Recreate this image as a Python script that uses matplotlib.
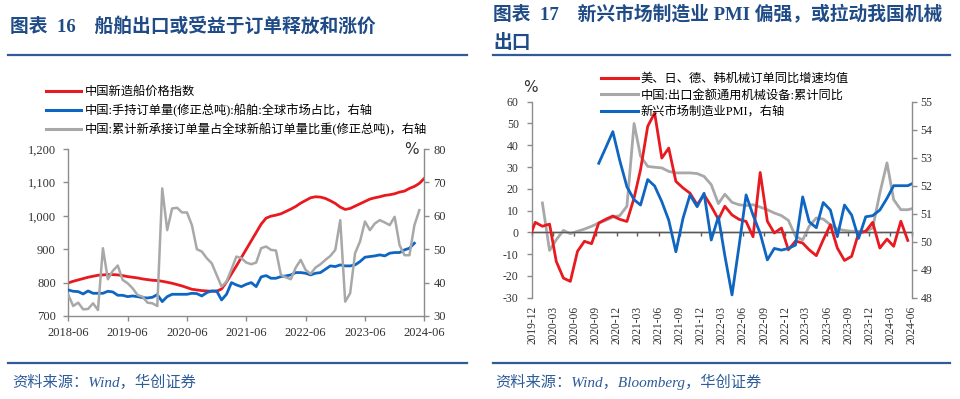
import matplotlib
matplotlib.use('Agg')
import matplotlib.pyplot as plt
import matplotlib.dates as mdates
from matplotlib.lines import Line2D
from matplotlib.ticker import FuncFormatter
import numpy as np
import pandas as pd

plt.rcParams['font.family'] = ['Liberation Serif', 'Noto Sans CJK SC']
plt.rcParams['axes.unicode_minus'] = False

# ---------------- data: chart 16 (monthly, 2018-06 .. 2024-06) ----------------
left_start = '2018-06'
ship_price = [799, 804, 808, 812, 816, 819, 822, 823, 824, 824, 823, 821, 818, 816, 814, 811,
              809, 807, 806, 804, 801, 798, 794, 790, 785, 780, 778, 776, 775, 774, 774, 781,
              802, 826, 850, 875, 900, 925, 950, 975, 993, 999, 1002, 1006, 1013, 1020, 1028,
              1038, 1046, 1054, 1057, 1056, 1052, 1045, 1037, 1026, 1019, 1022, 1029, 1036,
              1043, 1050, 1054, 1057, 1061, 1063, 1066, 1071, 1074, 1082, 1088, 1097, 1112]
hold_share = [37.8, 37.4, 37.3, 36.6, 37.5, 36.8, 36.8, 36.8, 37.4, 37.2, 36.2, 36.2, 35.8, 36.0,
              35.8, 35.5, 35.4, 35.6, 36.4, 34.3, 35.8, 36.5, 36.5, 36.5, 36.5, 36.8, 36.7, 36.0,
              37.0, 37.5, 37.5, 34.8, 36.5, 40.0, 39.3, 38.8, 39.5, 40.0, 38.8, 41.7, 42.1, 41.3,
              41.3, 41.8, 42.0, 42.3, 43.0, 43.0, 42.8, 42.3, 42.8, 43.0, 44.0, 45.0, 44.8, 45.3,
              45.0, 45.0, 45.3, 46.3, 47.6, 47.8, 48.0, 48.3, 48.0, 48.8, 49.0, 49.0, 49.8, 50.3,
              51.8]
new_share = [36.3, 33.0, 34.0, 32.0, 32.1, 33.8, 31.8, 50.3, 41.0, 43.5, 45.1, 40.8, 39.8, 38.3,
             36.3, 35.8, 34.0, 33.8, 33.0, 68.2, 55.7, 62.2, 62.4, 61.0, 61.0, 57.2, 50.0, 49.3,
             47.3, 45.8, 42.3, 38.8, 40.3, 44.0, 47.8, 47.3, 46.0, 45.5, 46.0, 50.3, 50.8, 49.8,
             49.6, 42.3, 41.6, 41.0, 44.5, 46.8, 43.8, 42.6, 44.5, 45.5, 46.8, 48.0, 49.8, 58.7,
             34.3, 36.8, 48.8, 52.3, 58.3, 55.7, 57.7, 58.7, 58.0, 57.2, 59.7, 51.2, 48.2, 48.2,
             57.2, 61.7]
left_xticklabels = ['2018-06', '2019-06', '2020-06', '2021-06', '2022-06', '2023-06', '2024-06']
left_yticks = [700, 800, 900, 1000, 1100, 1200]
left_y2ticks = [30, 40, 50, 60, 70, 80]
left_labels = ['中国新造船价格指数',
               '中国:手持订单量(修正总吨):船舶:全球市场占比，右轴',
               '中国:累计新承接订单量占全球新船订单量比重(修正总吨)，右轴']

# ---------------- data: chart 17 (monthly) ----------------
red_start = '2019-11'
machine_orders = [-4, 4.6, 2.8, 3.8, -13.3, -21, -22.5, -8.7, -4.1, -5.2, 4.3, 6, 7.5, 6, 5, 15.8,
                  28.8, 48.7, 54.8, 34.1, 38.7, 23.4, 20.4, 18, 12.7, 17.3, 12, 6, 12, 8, 6, 5, -2,
                  27.5, 5.1, -0.3, 2, -8, -4, -4.9, -8, -10.7, -3.4, 3.5, -7.2, -12.9, -11, -0.3,
                  0.5, 4.6, -7.2, -3.1, -6.4, 5.1, -3.7]
gray_start = '2020-01'
cn_export = [13.5, -8.3, -3.4, 0.9, -0.6, 0.5, 1.5, 2.8, 4.3, 5.5, 7, 7.7, 12, 50, 35, 30.3, 29.9,
             29.6, 28, 27.3, 27.3, 27.3, 27, 25.7, 21.9, 13.2, 17.5, 13.8, 12.7, 12.3, 12.7, 11.6,
             10.4, 8.9, 7.7, 5.5, -1.8, -3.5, 2.8, 6.6, 6.1, 3.5, 1.5, 0.9, 0.5, 0.5, 0.5, 2, 18,
             31.9, 15, 10.4, 10.4, 11.2]
blue_start = '2020-09'
em_pmi = [52.8, 53.35, 53.93, 52.9, 51.96, 51.5, 51.31, 52.22, 51.99, 51.43, 50.77, 49.64, 50.84,
          51.67, 51.25, 51.73, 50.06, 50.89, 49.5, 48.1, 49.82, 51.67, 50.95, 50.3, 49.35, 49.76,
          49.7, 49.76, 49.88, 51.6, 50.71, 50.5, 51.4, 51.13, 50.18, 51.31, 50.95, 50.12, 50.89,
          50.93, 51.13, 51.55, 52.0, 52.0, 52.0, 52.12]
right_tick_first, right_tick_last = '2019-12', '2024-06'
right_yticks = list(range(-30, 61, 10))
right_y2ticks = list(range(48, 56))
right_labels = ['美、日、德、韩机械订单同比增速均值',
                '中国:出口金额通用机械设备:累计同比',
                '新兴市场制造业PMI，右轴']

title16 = '图表  16\u3000船舶出口或受益于订单释放和涨价'
title17a = '图表  17\u3000新兴市场制造业 PMI 偏强，或拉动我国机械'
title17b = '出口'
source16 = '资料来源：Wind，华创证券'
source17 = '资料来源：Wind，Bloomberg，华创证券'

# ---------------- styles ----------------
RED = '#E8191F'
BLUE = '#0F66C2'
GRAY = '#A8A8A8'
NAVY = '#1F4B86'
RULE = '#2E5B99'
SPINE = '#8C8C8C'
TXT = '#333333'
SERIF = ['Liberation Serif', 'Noto Sans CJK SC']
W, H = 960, 399

fig = plt.figure(figsize=(9.6, 3.99), dpi=100)


def fx(px):
    return px / W


def fy(py):
    return 1 - py / H


# titles, rules, sources
fig.text(fx(10), fy(26), title16, color=NAVY, fontsize=13.5, fontweight='bold',
         family=SERIF, va='center', ha='left')
fig.text(fx(493), fy(15), title17a, color=NAVY, fontsize=13.5, fontweight='bold',
         family=SERIF, va='center', ha='left')
fig.text(fx(493), fy(42.5), title17b, color=NAVY, fontsize=13.5, fontweight='bold',
         family=SERIF, va='center', ha='left')
for x0, x1 in [(8, 467), (493, 950)]:
    fig.add_artist(Line2D([fx(x0), fx(x1)], [fy(55), fy(55)], color=RULE, lw=1.6,
                          transform=fig.transFigure))
    fig.add_artist(Line2D([fx(x0), fx(x1)], [fy(362.5), fy(362.5)], color=RULE, lw=1.6,
                          transform=fig.transFigure))
fig.text(fx(12), fy(382), source16, color=RULE, fontsize=11, style='italic',
         family=SERIF, va='center', ha='left')
fig.text(fx(495), fy(382), source17, color=RULE, fontsize=11, style='italic',
         family=SERIF, va='center', ha='left')

# ---------------- chart 16 ----------------
ax1 = fig.add_axes([fx(68.3), fy(316), fx(424.3 - 68.3), (316 - 149) / H])
ax1r = ax1.twinx()
lm = pd.period_range(left_start, periods=len(ship_price), freq='M').strftime('%Y-%m').tolist()
xi = np.arange(len(lm))
ax1.plot(xi[:len(ship_price)], ship_price, color=RED, lw=2.0, solid_joinstyle='round')
ax1r.plot(xi[:len(hold_share)], hold_share, color=BLUE, lw=2.0, solid_joinstyle='round')
ax1r.plot(xi[:len(new_share)], new_share, color=GRAY, lw=1.8, solid_joinstyle='round')
ax1.set_xlim(0, len(lm) - 1)
ax1.set_ylim(left_yticks[0], left_yticks[-1])
ax1r.set_ylim(left_y2ticks[0], left_y2ticks[-1])
ax1.set_yticks(left_yticks)
ax1r.set_yticks(left_y2ticks)
ax1.yaxis.set_major_formatter(FuncFormatter(lambda v, p: f'{int(v):,}'))
ax1.set_xticks([lm.index(l) for l in left_xticklabels])
ax1.set_xticklabels(left_xticklabels)
for a in (ax1, ax1r):
    a.spines['top'].set_visible(False)
    for s in a.spines.values():
        s.set_color(SPINE)
        s.set_linewidth(1.0)
    a.patch.set_visible(False)
ax1r.spines['left'].set_visible(False)
ax1r.spines['bottom'].set_visible(False)
ax1.spines['right'].set_visible(False)
ax1.tick_params(axis='y', direction='out', length=3.5, width=1, color=SPINE, pad=5.5,
                labelsize=9, labelcolor=TXT)
ax1.tick_params(axis='x', direction='out', length=3.5, width=1, color=SPINE, pad=4.5,
                labelsize=9, labelcolor=TXT)
ax1r.tick_params(axis='y', direction='out', length=3.5, width=1, color=SPINE, pad=3,
                 labelsize=9, labelcolor=TXT)
ax1r.text(0.965, 1.0, '%', transform=ax1r.transAxes, ha='center', va='center',
          fontsize=11, color=TXT, family=['DejaVu Sans'])

h16 = [Line2D([], [], color=c, lw=2.2) for c in (RED, BLUE, GRAY)]
fig.legend(h16, left_labels, loc='upper left', bbox_to_anchor=(fx(46), fy(86)),
           frameon=False, handlelength=2.85, handletextpad=0.35,
           labelspacing=0.45, borderpad=0, borderaxespad=0, prop={'family': SERIF, 'size': 8.8})

# ---------------- chart 17 ----------------
ax2 = fig.add_axes([fx(532), fy(297.7), fx(911.7 - 532), (297.7 - 101.7) / H])
ax2r = ax2.twinx()


def mid_month(start, n):
    return pd.date_range(pd.Period(start, 'M').start_time, periods=n, freq='MS') + pd.Timedelta(days=14)


ax2.axhline(0, color='#595959', lw=1.0, zorder=1)
ax2.plot(mid_month(red_start, len(machine_orders)), machine_orders, color=RED, lw=2.0,
         solid_joinstyle='round', zorder=3)
ax2.plot(mid_month(gray_start, len(cn_export)), cn_export, color=GRAY, lw=2.0,
         solid_joinstyle='round', zorder=2)
ax2r.plot(mid_month(blue_start, len(em_pmi)), em_pmi, color=BLUE, lw=2.0,
          solid_joinstyle='round')
t0 = pd.Period(right_tick_first, 'M').start_time
t1 = pd.Period(right_tick_last, 'M').start_time
ax2.set_xlim(t0, t1)
ax2.set_ylim(right_yticks[0], right_yticks[-1])
ax2r.set_ylim(right_y2ticks[0], right_y2ticks[-1])
ax2.set_yticks(right_yticks)
ax2r.set_yticks(right_y2ticks)
xt = pd.date_range(t0, t1, freq='3MS')
ax2.set_xticks(xt)
ax2.xaxis.set_major_formatter(mdates.DateFormatter('%Y-%m'))
for a in (ax2, ax2r):
    for s in a.spines.values():
        s.set_color(SPINE)
        s.set_linewidth(1.0)
    a.spines['top'].set_visible(False)
ax2.spines['right'].set_visible(False)
ax2r.spines['left'].set_visible(False)
ax2r.spines['bottom'].set_visible(False)
# category axis crosses at zero: tick marks on the zero line, labels at the bottom
ax2.spines['bottom'].set_position(('data', 0))
ax2.spines['bottom'].set_color('#595959')
ax2.tick_params(axis='x', direction='out', length=3, width=1, color='#595959',
                labelbottom=False)
ax2.tick_params(axis='y', direction='out', length=3.5, width=1, color=SPINE, pad=6,
                labelsize=8.5, labelcolor=TXT)
ax2r.tick_params(axis='y', direction='out', length=3.5, width=1, color=SPINE, pad=3,
                 labelsize=8.5, labelcolor=TXT)
ax2r.xaxis.set_visible(True)
ax2r.tick_params(axis='x', length=0, pad=6, labelsize=8.3, labelcolor=TXT,
                 labelrotation=90, bottom=True, labelbottom=True, top=False, labeltop=False)
ax2.text(-0.005, 1.075, '%', transform=ax2.transAxes, ha='center', va='center',
         fontsize=11, color=TXT, family=['DejaVu Sans'])

h17 = [Line2D([], [], color=c, lw=2.2) for c in (RED, GRAY, BLUE)]
fig.legend(h17, right_labels, loc='upper left', bbox_to_anchor=(fx(601), fy(73)),
           frameon=False, handlelength=3.05, handletextpad=0.2,
           labelspacing=0.38, borderpad=0, borderaxespad=0, prop={'family': SERIF, 'size': 8.8})

fig.savefig('out.png', dpi=100)
